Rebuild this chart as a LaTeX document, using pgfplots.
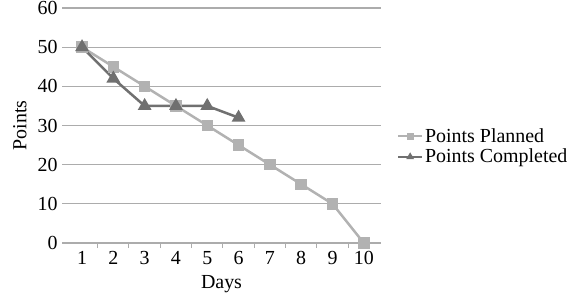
\documentclass[border=0pt]{standalone}
\usepackage{fontspec}
\setmainfont{Liberation Serif}
\usepackage{pgfplots}
\pgfplotsset{compat=1.18}
\definecolor{planned}{RGB}{178,178,178}
\definecolor{completed}{RGB}{112,112,112}
\definecolor{gridc}{RGB}{172,172,172}
\begin{document}
\begin{tikzpicture}[x=1bp,y=1bp]
\useasboundingbox (0,0) rectangle (582,298);
\begin{axis}[
  at={(62bp,55bp)}, anchor=south west,
  scale only axis, width=319bp, height=235bp,
  xmin=0.36, xmax=10.55, ymin=0, ymax=60,
  xtick={1,...,10},
  minor xtick={1.5,2.5,...,9.5},
  ytick={0,10,...,60},
  ymajorgrids,
  grid style={draw=gridc, line width=1.2bp},
  axis line style={draw=none},
  xtick pos=bottom, ytick pos=left,
  major tick length=0pt, minor tick length=5bp, tick align=outside,
  minor x tick style={draw=gridc, line width=1bp},
  major tick style={draw=none},
  /pgf/number format/assume math mode=true,
  tick label style={font=\fontsize{20}{22}\selectfont},
  xticklabel style={yshift=-5bp},
  yticklabel style={xshift=-1bp},
  xlabel={Days}, ylabel={Points},
  every axis x label/.style={at={(axis description cs:0.5,-0.174)}, anchor=center, font=\fontsize{20}{22}\selectfont},
  every axis y label/.style={at={(axis description cs:-0.132,0.5)}, rotate=90, anchor=center, font=\fontsize{20}{22}\selectfont},
  legend style={at={(1.05,0.41)}, anchor=west, draw=none, fill=none, inner sep=0pt,
    font=\fontsize{20}{22}\selectfont, row sep=1bp, cells={anchor=west}},
  legend image code/.code={\draw[#1, mark repeat=2, mark phase=2, mark size=2.5bp, line width=2bp] plot coordinates {(0bp,0bp) (12bp,0bp) (24bp,0bp)};},
  clip=false,
]
\addplot[color=planned, line width=2.5bp, mark=square*, mark size=4.5bp, mark options={solid}]
  coordinates {(1,50) (2,45) (3,40) (4,35) (5,30) (6,25) (7,20) (8,15) (9,10) (10,0)};
\addlegendentry{Points Planned}
\addplot[color=completed, line width=2.5bp, mark=triangle*, mark size=5.5bp, mark options={solid}]
  coordinates {(1,50) (2,42) (3,35) (4,35) (5,35) (6,32)};
\addlegendentry{Points Completed}
\end{axis}
\end{tikzpicture}
\end{document}
